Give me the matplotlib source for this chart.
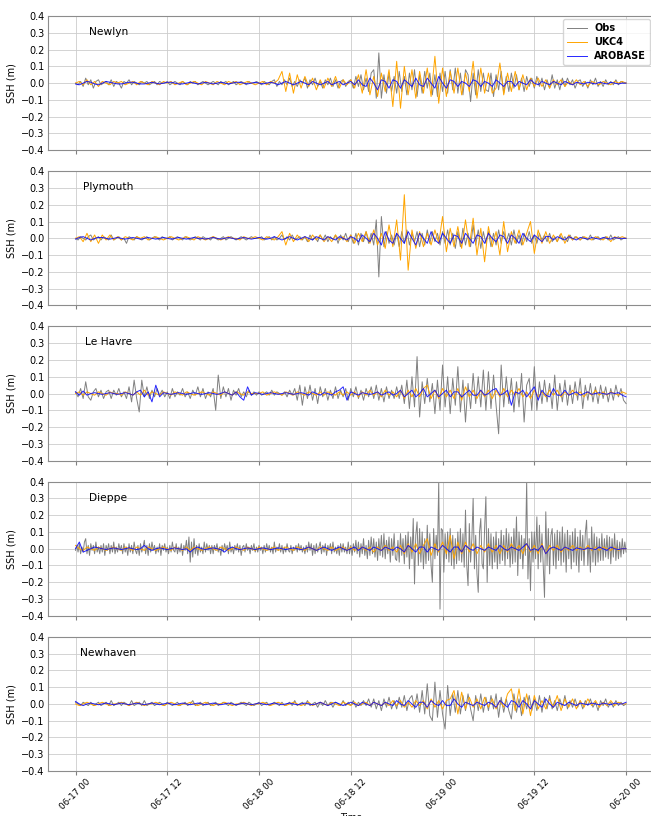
import numpy as np
import pandas as pd
import matplotlib
matplotlib.use('Agg')
import matplotlib.pyplot as plt
import matplotlib.dates as mdates

# sea surface height anomalies in cm
# obs every 20 min (Dieppe every 10 min), models every 30 min,
# from 06-17 00 to 06-20 00, one line = 6 hours
stations = ['Newlyn', 'Plymouth', 'Le Havre', 'Dieppe', 'Newhaven']

newlyn_obs = [
    0, -1, 1, -2, 3, -1, 2, -3, 1, 2, -1, 0, 1, -1, 2, -2, 1, 0,
    -3, 1, 0, 2, -1, 1, 0, -1, 1, 0, 1, -1, 0, 1, -1, 1, 0, 0,
    1, -1, 0, 1, 0, -1, 1, 0, -1, 1, 0, 1, -1, 0, 1, 0, -1, 0,
    1, 0, -1, 1, 0, 1, -1, 0, 1, -1, 0, 1, 0, -1, 1, 0, 0, 1,
    0, -1, 1, 0, -1, 1, 2, -2, 1, -1, 2, -1, 3, -2, 1, -2, 2, 0,
    3, -3, 2, -1, 3, -2, 1, -3, 2, -1, 3, -2, 2, -3, 1, 2, -2, 1,
    2, -3, 4, -2, 5, -4, 3, -5, 6, 8, -9, 18, -9, 5, -6, 6, -5, 4,
    -6, 7, -5, 4, -7, 6, -4, 8, -8, 5, -6, 7, -3, 6, -7, 5, -8, 6,
    -5, 7, -6, 8, -4, 9, -6, 6, -7, 8, 5, -11, 6, -7, 8, -5, 6, -4,
    -5, 6, -8, 5, -4, 7, -6, 4, -5, 6, -3, 5, -4, 3, -5, 4, -2, 3,
    -3, 4, -2, 3, -4, 2, -3, 5, -3, 2, -4, 3, -2, 3, -1, 2, -3, 1,
    2, -2, 1, -3, 2, -1, 3, -2, 1, -2, 2, -1, 1, -1, 2, -1, 1, 0,
    0]
newlyn_ukc4 = [
    0, 1, -1, 2, -1, 1, -2, 1, 0, -1, 1, 0,
    1, -1, 0, 1, -1, 1, 0, -1, 1, 0, -1, 1,
    0, 1, -1, 0, 1, -1, 0, 1, 0, -1, 1, 0,
    -1, 1, 0, -1, 1, 0, 1, -1, 0, 1, 0, -1,
    0, 1, -1, 1, 0, 2, 7, -5, 6, -6, 5, -3,
    4, -2, 3, -4, 2, -3, 3, -2, 4, -3, 2, -1,
    2, -3, 5, -6, 8, -7, 4, -8, 6, -5, 8, -14,
    13, -15, 10, -7, 8, -9, 7, -6, 9, -8, 16, -12,
    9, -8, 7, -6, 9, -7, 6, -5, 13, -9, 9, -6,
    6, -6, -3, 12, -7, 6, -5, 7, -4, 5, -4, 3,
    -2, 3, -2, 2, -3, 2, -1, 2, -2, 1, -1, 2,
    -1, 1, -2, 1, 0, -1, 1, 0, -1, 1, 0, 1,
    0]
newlyn_arobase = [
    -0.5, -1, 0, 1, 0.5, -0.5, -1, 0, 1, 0.5, 0, -0.5,
    -0.5, 0, 0.5, 0.5, 0, -0.5, -0.5, 0, 0.5, 0, -0.5, 0,
    0.5, 0.5, 0, -0.5, -0.5, 0, 0.5, 0, -0.5, 0, 0.5, 0,
    -0.5, 0, 0.5, 0, -0.5, 0, 0.5, 0.5, 0, -0.5, 0, 0.5,
    0, -0.5, 0, 0.5, 0, -1, 0, 1, 0, -1, 0, 1,
    0, -1, 1, 0, -1, 0, 1, -1, 0, 1, -1, 0,
    1, -1, 2, -1, -2, 3, 0, -4, 2, 1, -3, 2,
    1, -3, 2, 0, -2, 3, -1, -2, 3, 0, -3, 4,
    0, -3, 2, 1, -2, 1, 0, -2, 2, 1, -2, 1,
    0, -2, 2, 0, -2, 1, 1, -2, 1, 0, -1, 2,
    0, -1, 1, 0, -1, 1, 0, -1, 1, 0, -1, 0.5,
    0, -0.5, 0.5, 0, -0.5, 0.5, 0, -0.5, 0.5, 0, -0.5, 0,
    0]

plymouth_obs = [
    0, -1, 1, 0, -1, 1, 2, -1, 0, 1, -1, 1, 0, -1, 2, -1, 0, 1,
    -1, 0, -3, 1, 0, -1, 1, 0, -1, 0, 1, -1, 0, 1, 0, -1, 1, 0,
    0, 1, -1, 0, 1, 0, -1, 1, 0, -1, 0, 1, 0, -1, 1, 0, 0, -1,
    1, 0, -1, 0, 1, -1, 0, 1, 0, -1, 0, 1, 0, -1, 0, 1, 0, 0,
    0, 1, -1, 0, 1, -1, 1, -1, 0, 2, -1, 1, -1, 2, -1, 0, 1, -1,
    1, -2, 2, -1, 1, -2, 2, -1, 2, -2, 1, -1, 2, -3, 2, -1, 3, -2,
    2, -3, 3, -4, 3, -2, 4, -3, 3, -4, 11, -23, 13, -5, 4, -3, 2, -4,
    3, -5, 4, -3, 5, -4, 3, -2, 4, -5, 3, -4, 5, -3, 4, -2, 3, -4,
    4, -3, 5, -4, 3, -6, 4, -5, 6, -4, 3, -5, 8, -4, 5, -6, 4, -3,
    4, -5, 3, -4, 5, -3, 4, -2, 3, -4, 5, -3, 2, -4, 3, -2, 4, -3,
    2, -3, 3, -1, 2, -2, 3, -2, 1, -2, 2, -1, 1, -2, 2, -1, 1, 0,
    -1, 1, 0, -1, 2, -1, 0, 1, -1, 0, 1, -1, 2, -1, 0, 1, -1, 0,
    0]
plymouth_ukc4 = [
    0, 1, -2, 3, -2, 2, -3, 2, -1, 2, -1, 1,
    -1, 1, 0, -1, 1, 0, 1, -1, 0, 1, 0, -1,
    0, 1, 0, -1, 0, 1, 0, -1, 1, 0, -1, 0,
    1, 0, -1, 0, 1, 0, 0, -1, 1, 0, 0, 1,
    0, -1, 1, 0, -1, 1, 4, -4, 3, -2, 2, -1,
    1, -2, 2, -1, 2, -2, 1, -2, 2, -1, 1, -2,
    2, -3, 3, -2, 4, -3, 5, -4, 3, -6, 8, -5,
    11, -13, 26, -19, 5, -6, 4, -5, 3, -4, 5, -3,
    13, -8, 6, -5, 7, -6, 11, -5, 12, -10, 6, -14,
    7, -5, 4, -10, 10, -8, 4, -3, 5, -4, 3, 10,
    -9, 5, -3, 4, -3, 2, -2, 3, -3, 2, -1, 1,
    -1, 1, 0, -1, 1, 0, -1, 1, -2, 1, 0, 1,
    0]
plymouth_arobase = [
    -0.5, 0.5, 1, 0, -1, 0, 0.5, 0.5, 0, -0.5, 0, 0.5,
    0, -0.5, 0, 0.5, 0, -0.5, 0, 0.5, 0, -0.5, 0, 0.5,
    0, -0.5, 0, 0.5, 0, -0.5, 0, 0.5, 0, 0, -0.5, 0,
    0.5, 0, -0.5, 0, 0.5, 0, -0.5, 0, 0.5, 0, -0.5, 0,
    0.5, 0, -0.5, 0, 1, 0, -1, 0, 1, 0, -1, 0,
    1, 0, -1, 1, 0, -1, 1, 0, -1, 1, 0, -1,
    1, 0, -2, 2, 0, -2, 3, 0, -4, 4, -1, -3,
    3, 0, -3, 4, 0, -4, 3, 0, -3, 4, -1, -3,
    3, 0, -3, 2, 1, -3, 3, 0, -3, 2, 1, -3,
    3, 0, -2, 2, 1, -3, 2, 0, -3, 3, 0, -2,
    2, 0, -2, 1, 1, -1, 1, 0, -1, 1, 0, -1,
    0.5, 0, -0.5, 0.5, 0, -0.5, 0.5, 0, -0.5, 0.5, 0, 0,
    0]

lehavre_obs = [
    1, -2, 3, -3, 7, -2, -4, 1, 3, -2, 2, -3, 1, 2, -3, 2, -1, 3,
    -2, 1, -3, 4, -5, 8, -3, -11, 8, -2, 4, -3, 2, -2, 3, -1, 2, -2,
    1, -3, 3, -2, 1, -1, 3, -2, 1, -3, 2, -1, 4, -2, 3, -3, 1, -2,
    3, -10, 11, -3, 4, -2, 3, -4, 2, -1, 3, -2, 1, -2, 2, -1, 1, -1,
    1, -1, 0, 1, -1, 2, -1, 1, 0, -1, 1, -2, 2, -1, 3, -4, 5, -7,
    4, -3, 5, -4, 3, -6, 4, -2, 3, -4, 2, -3, 4, -3, 2, -2, 3, -4,
    3, -2, 4, -3, 2, -4, 3, -2, 4, -3, 5, -4, 3, -5, 4, -3, 2, -3,
    4, -3, 5, -6, 8, -9, 10, -8, 22, -14, 7, -6, 9, -5, 6, -12, 8, -10,
    17, -8, 10, -12, 9, -7, 16, -11, 8, -17, 6, -9, 12, -6, 10, -8, 14, -10,
    13, -9, 11, -7, -24, 17, -8, 10, -6, 9, -11, 7, -8, 12, -17, 5, 9, -10,
    16, -10, 7, -6, 8, -5, 6, -9, 11, -10, 6, -5, 8, -7, 5, -6, 7, -4,
    9, -9, 5, -4, 6, -5, 4, -6, 5, -3, 4, -5, 3, -4, 5, -2, 3, -4,
    -6]
lehavre_ukc4 = [
    0, 1, -1, 1, 0, -1, 1, 0, -1, 1, 0, 0,
    -1, 1, 0, -1, 1, -1, 2, -1, 1, 0, -1, 1,
    0, -1, 1, 0, -1, 1, 0, -1, 0, 1, 0, -1,
    1, 0, -1, 1, 0, -1, 1, 0, -1, 1, 0, 0,
    0, 1, -1, 0, 1, 0, -1, 1, 0, -1, 1, 0,
    -1, 1, 0, -1, 1, -1, 1, 0, -1, 1, -1, 1,
    -1, 1, -2, 1, -1, 2, -1, 1, -2, 2, -1, 1,
    -2, 2, -3, 2, -2, 3, -2, 3, 5, -3, 2, -3,
    3, -2, 2, -3, 3, -4, 4, -2, 2, -3, 2, -2,
    2, -3, 2, -2, 3, -2, 2, -1, 3, -2, 1, -3,
    2, -2, 1, -2, 2, -1, 2, -2, 1, -1, 2, -1,
    1, -2, 1, -1, 2, -1, 1, -1, 1, 0, -1, 1,
    0]
lehavre_arobase = [
    1, -1, 1.5, -1, 0, 0.5, 0, -0.5, 0, 0.5, 0, -0.5,
    0, 0.5, 0, -1, 1, 2, -2, 1, -5, 5, -2, 0.5,
    0, -0.5, 0, 0.5, 0, -0.5, 0, 0.5, 0, -0.5, 0, 0.5,
    0, -0.5, 0, 1, 0, -1, 1, -2, -4, 4, -1, 0.5,
    0, -0.5, 0, 0.5, 0, -0.5, 0, 0.5, 0, -0.5, 0, 0.5,
    0, -1, 1, 0, -1, 0.5, 0, -1, 1, 2, 4, -4,
    1, 0, -1, 0.5, 0, -0.5, 0, 1, -1, 0, 1, -1,
    0, 2, -2, 0, 2, -2, 0, 3, -2, 0, 2, -2,
    0, 2, -2, 1, 1, -2, 0, 2, -1, -1, 2, -1,
    0, 2, 3, -1, 0, 2, -7, 1, 0, 2, -2, 1,
    4, -4, 2, -1, -2, 3, -1, -1, 2, -1, 0, 1,
    -1, 0, 1, -0.5, 0, 0.5, 0, -0.5, 0.5, 0, 0.5, -1,
    -2]

dieppe_obs = [
    -1, 2, -2, 3, -3, 1, -2, 4, 6, -3, 2, -4, 3, -1, 2, -3, 4, -2,
    1, -3, 2, -2, 3, -4, 2, -1, 3, -3, 2, -2, 4, -3, 1, -2, 3, -1,
    2, -3, 3, -2, 1, -4, 3, -2, 2, -3, 4, -1, -3, 2, -4, 3, -2, 1,
    5, -3, 2, -4, 3, -2, 4, -1, 2, -3, 1, -2, 3, -4, 2, -1, 3, -2,
    1, -3, 2, -2, 4, -1, -2, 3, -3, 1, -2, 3, -4, 2, -1, 5, -3, 7,
    -8, 4, -5, 6, -3, 2, -4, 3, -2, 1, -3, 4, -2, 3, -1, 2, -3, 2,
    -3, 2, -1, 3, -2, 1, -4, 2, -2, 3, -1, 2, -3, 4, -2, 1, -3, 2,
    -1, 3, -2, 2, -4, 1, 2, -2, 3, -1, 1, -3, 2, -1, 3, -2, 1, -2,
    2, -1, 1, -3, 2, -2, 3, -1, 2, -2, 1, -3, 4, -2, 1, -1, 3, -2,
    2, -3, 1, -2, 3, -1, -2, 2, -3, 1, -1, 2, -2, 3, -1, 2, -2, 1,
    -3, 2, -2, 4, -1, 3, -4, 2, -3, 3, -2, 1, 4, -3, 2, -2, 3, -4,
    2, -1, 3, -3, 4, -2, 1, -3, 2, -4, 3, -2, 3, -2, 1, -3, 4, -3,
    2, -4, 3, -2, 5, -3, 4, -5, 3, -3, 6, -4, 2, -6, 5, -4, 7, -3,
    6, -5, 4, -7, 6, -4, 8, -5, 9, -6, 5, -3, 7, -8, 6, -4, 9, -6,
    -7, 5, -8, 9, -4, 6, -9, 8, -5, 10, -12, 7, -6, 18, -21, 8, 16, -10,
    12, -8, 10, -12, 6, -9, 14, -7, 9, -10, -20, 12, -6, 8, -4, 40, -36, 12,
    11, -14, 9, -6, 10, -8, 12, -10, 8, -12, 6, -9, 10, -7, 12, -8, 9, -11,
    23, -10, -22, 15, -8, 6, 30, -12, 8, -15, -26, 10, 18, -9, -12, 12, 31, -20,
    12, -10, 9, -12, 7, -8, 10, -12, 6, -9, 11, -7, 8, -10, 12, -6, 9, -11,
    7, -9, 12, -8, 19, -16, 10, -6, 8, -12, 6, -4, 40, -18, 6, -25, 10, -8,
    10, -6, 19, -12, 14, -8, 9, -10, -29, 22, -10, 12, -15, 8, 12, -10, 9, -12,
    11, -7, 10, -10, 13, -8, 9, -14, 11, -6, 8, -12, 10, -8, 12, -10, 7, -14,
    11, -7, 8, -10, 9, 17, -10, 6, -14, 13, -8, 9, -10, 7, -8, 6, -7, 9,
    -7, 6, -5, 8, -6, 7, -9, 6, -5, 9, -7, 5, -6, 4, -5, 6, -3, 4,
    -2]
dieppe_ukc4 = [
    2, 0, -1, 1, 0, -1, 1, 0, -1, 0, 1, 0,
    -1, 1, 0, -1, 1, 0, -1, 1, 0, -1, 0, 1,
    0, -1, 1, 0, -1, 1, -1, 1, 0, -1, 0, 1,
    0, -1, 1, 0, -1, 0, 1, 0, -1, 1, 0, -1,
    1, 0, -1, 0, 1, -1, 0, 1, 0, -1, 1, 0,
    -1, 1, 0, -1, 1, 0, -1, 1, -1, 0, 1, -1,
    1, -1, 0, 1, -1, 1, -2, 1, -1, 2, -1, 1,
    -2, 2, -3, 3, -2, 3, -3, 2, 6, -4, 3, -2,
    4, -3, 8, -6, 4, -3, 4, -2, 3, -3, 2, -2,
    3, -2, 2, -3, 2, -2, 3, -1, 2, -3, 3, -2,
    2, -3, 3, -3, 2, -1, 2, -2, 1, -1, 2, -1,
    1, -1, 2, -1, 1, -1, 1, 0, -1, 1, -1, 0,
    0]
dieppe_arobase = [
    0, 4, -2, -1, 0, 1, 0.5, 0, -0.5, 0, 0.5, 0,
    -0.5, 0, 0.5, 0, -0.5, 0, 2, 0, -1, 0, 0.5, 0,
    -0.5, 0, 0.5, 0, -0.5, 0, -2, 0, 1, 0, -0.5, 0,
    0.5, 0, -0.5, -2, 0, 1, 0, -0.5, 0, 0.5, 0, -0.5,
    0, 0.5, 0, -0.5, 0, 0.5, 0, -0.5, 0, 0.5, 0, -0.5,
    0, 1, 0, -1, 0, 1, 0, -1, 0, 1, 0, -1,
    0, 1, -1, 1, 0, -1, 1, 0, -1, 1, 0, -1,
    1, 0, -2, 2, 0, -2, 1, 1, -2, 1, 0, -1,
    2, 0, -2, 1, 1, -2, 2, 0, -1, 1, 0, -1,
    1, 0, -1, 2, 0, -1, 1, 0, -1, 1, 3, -1,
    0, -1, 2, -3, 0, 1, 0, -1, 1, 0, -1, 0.5,
    0, -0.5, 0.5, 0, -0.5, 1, 0, -1, 1, 0, -0.5, 0,
    0]

newhaven_obs = [
    1, 0, -1, 1, 0, -1, 1, -1, 0, 1, -1, 0, 1, -1, 2, -1, 0, 1,
    -1, 1, 0, -1, 2, -1, 0, 1, -1, 2, -1, 0, 1, -1, 0, 1, 0, -1,
    1, 0, -1, 0, 1, -1, 0, 1, -1, 0, 2, -1, 0, 1, -1, 0, 1, -1,
    0, 1, -1, 0, 1, 0, -1, 1, 0, -1, 0, 1, 0, -1, 1, 0, -1, 0,
    1, -1, 0, 1, -1, 0, 1, 0, -1, 1, -1, 0, 1, -1, 2, -1, 0, 1,
    -1, 2, -1, 0, 1, -2, 1, -1, 2, -1, 1, -2, 1, 0, -1, 2, -1, 1,
    -1, 2, -2, 1, -1, 2, -1, 3, -2, 3, -3, 2, -4, 3, -2, 4, -3, 2,
    -3, 4, -2, 5, -4, 3, 5, -3, 6, -5, 8, -6, 12, -7, -10, 13, -8, 8,
    -6, -15, 11, -7, 6, -5, 8, -6, 5, -4, 6, -3, -10, 5, -4, 6, -5, 4,
    -4, 5, -3, 6, -8, 4, -5, 3, -4, -9, 6, -5, 3, -7, 4, -3, 5, -4,
    3, -4, 5, -5, 4, -3, 5, -3, 2, -4, 3, -2, 5, -3, 2, -2, 3, -2,
    2, -3, 2, -1, 3, -2, 1, -4, 2, -1, 3, -2, 1, -2, 2, -1, 1, -1,
    0]
newhaven_ukc4 = [
    0, -1, 0, 1, 0, -1, 0, 1, 0, -1, 0, 0,
    1, 0, -1, 0, 1, 0, -1, 0, 0, 1, 0, -1,
    0, 1, 0, -1, 0, 0, 1, 0, -1, 0, 1, 0,
    -1, 0, 0, 1, 0, -1, 0, 0, 1, 0, -1, 0,
    0, 1, 0, -1, 0, 1, 0, -1, 0, 1, 0, -1,
    0, 1, -1, 0, 1, 0, -1, 1, 0, -1, 1, 0,
    -1, 1, -1, 0, 1, -1, 1, 0, -1, 1, -1, 2,
    -1, 2, -2, 1, -2, 2, -1, 2, -3, 3, -2, 2,
    -3, 2, 3, 8, -6, 7, -3, 4, -2, 3, -3, 4,
    -2, 3, -3, 2, -2, 6, 9, -4, 9, -6, 6, -7,
    5, -3, 2, -3, 3, -2, 5, -4, 3, -2, 3, -3,
    2, -2, 3, -1, 2, -2, 1, -1, 2, -1, 1, 0,
    0]
newhaven_arobase = [
    1.5, 0, -1, 0, 0.5, 0, -0.5, 0, 0.5, 0, -0.5, 0,
    0.5, 0, -0.5, 0, 0.5, 0, -0.5, 0, 0.5, 0, -0.5, 0,
    0.5, 0, -0.5, 0, 0.5, 0, -0.5, 0, 0.5, 0, -0.5, 0,
    0.5, 0, -0.5, 0, 0.5, 0, -0.5, 0, 0.5, 0, -0.5, 0,
    0.5, 0, -0.5, 0, 0.5, 0, -0.5, 0, 0.5, 0, -0.5, 0,
    0.5, 0, -0.5, 0, 1, 0, -1, 0, 1, 0, -1, 0,
    1, 0, -1, 1, 0, -1, 1, 0, -1, 1, 0, -1,
    2, 0, -1, 2, 0, -2, 1, 1, -2, 2, 0, -1,
    2, -1, -1, 3, 0, -2, 1, 0, -1, 1, 0, -1,
    1, 0, -2, 2, 0, -2, 2, 1, -2, 2, 0, -3,
    2, 0, -2, 3, 0, -2, 1, 0, -1, 1, 0, -1,
    0.5, 0, -0.5, 0.5, 0, -0.5, 0.5, 0, -0.5, 0.5, 0, 0,
    1]

obs = [newlyn_obs, plymouth_obs, lehavre_obs, dieppe_obs, newhaven_obs]
ukc4 = [newlyn_ukc4, plymouth_ukc4, lehavre_ukc4, dieppe_ukc4, newhaven_ukc4]
arobase = [newlyn_arobase, plymouth_arobase, lehavre_arobase, dieppe_arobase, newhaven_arobase]

for o, u, a in zip(obs, ukc4, arobase):
    assert len(o) in (217, 433), len(o)
    assert len(u) == 145 and len(a) == 145, (len(u), len(a))

start = pd.Timestamp('2023-06-17 00:00')
span = pd.Timedelta(hours=72)
t_mod = pd.date_range(start, periods=145, freq='30min')

fig, axes = plt.subplots(5, 1, figsize=(6.51, 8.16), dpi=100, sharex=True)
fig.subplots_adjust(left=0.0737, right=1.004, top=0.9804, bottom=0.0551, hspace=0.156)

for i, ax in enumerate(axes):
    t_obs = pd.date_range(start, periods=len(obs[i]), freq=span / (len(obs[i]) - 1))
    ax.plot(t_obs, np.array(obs[i]) / 100, color='grey', lw=0.7, label='Obs')
    ax.plot(t_mod, np.array(ukc4[i]) / 100, color='orange', lw=0.7, label='UKC4')
    ax.plot(t_mod, np.array(arobase[i]) / 100, color='blue', lw=0.7, alpha=0.85, label='AROBASE')
    ax.set_ylim(-0.4, 0.4)
    ax.set_yticks(np.arange(-0.4, 0.41, 0.1))
    ax.grid(True, color='#cccccc', lw=0.6)
    ax.set_axisbelow(True)
    ax.set_ylabel('SSH (m)', fontsize=7, labelpad=3)
    ax.tick_params(axis='y', labelsize=7, length=0, pad=2.5)
    ax.tick_params(axis='x', labelsize=6.3, color='0.5', length=3, pad=1.5)
    for sp in ax.spines.values():
        sp.set_color('0.55')
    ax.text(0.1, 0.88, stations[i], transform=ax.transAxes, ha='center', va='center', fontsize=7.7)

axes[0].legend(loc='upper right', prop={'weight': 'bold', 'size': 7},
               borderaxespad=0.35, labelspacing=0.4)
axes[-1].xaxis.set_major_locator(mdates.HourLocator(byhour=[0, 12]))
axes[-1].xaxis.set_major_formatter(mdates.DateFormatter('%m-%d %H'))
plt.setp(axes[-1].get_xticklabels(), rotation=45)
axes[-1].set_xlabel('Time', fontsize=6.5, labelpad=1)

plt.savefig('out.png', dpi=100)
